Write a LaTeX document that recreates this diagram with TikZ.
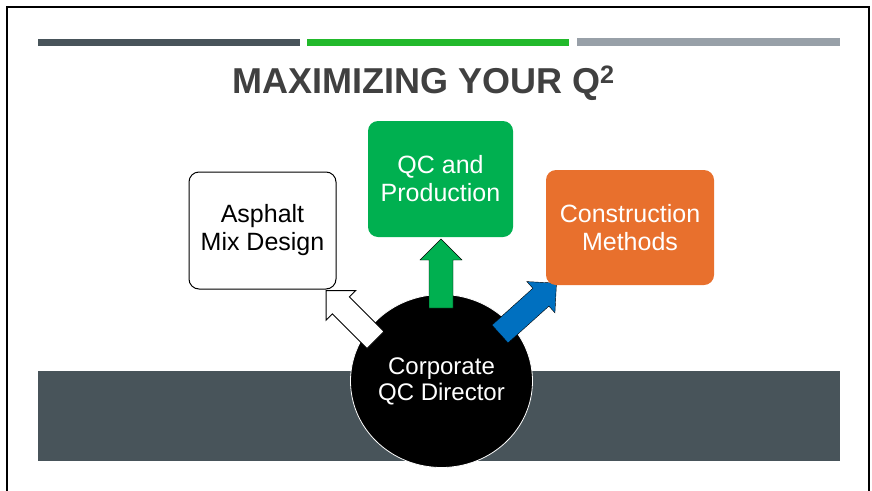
\documentclass[tikz,border=0pt]{standalone}
\usepackage{fontspec}
\setmainfont{Liberation Sans}
\usetikzlibrary{positioning,calc}
\definecolor{slate}{HTML}{48545A}
\definecolor{barGreen}{HTML}{22B92B}
\definecolor{barGrey}{HTML}{98A0A8}
\definecolor{titleGrey}{HTML}{404040}
\definecolor{qcGreen}{HTML}{00B050}
\definecolor{methOrange}{HTML}{E8702D}
\definecolor{arrowBlue}{HTML}{0070C0}
\tikzset{
	box/.style={rectangle, rounded corners=10pt, align=center, inner sep=2pt,
		font=\fontsize{25}{28}\selectfont},
	hub/.style={ellipse, fill=black, draw=white, line width=0.8pt, align=center,
		text=white, inner sep=0pt, font=\fontsize{24}{26}\selectfont}
}
% block arrow: style, tail point, angle, length
\newcommand{\blockarrow}[4][]{%
	\draw[#1, shift={#2}, rotate=#3] (0,-12) -- ({#4-21},-12) -- ({#4-21},-21)
		-- (#4,0) -- ({#4-21},21) -- ({#4-21},12) -- (0,12) -- cycle;}
\usetikzlibrary{shapes.geometric}

\begin{document}
\begin{tikzpicture}[x=1pt, y=-1pt]
	\useasboundingbox (0,0) rectangle (872,490);
	\draw[line width=2pt] (7,7) rectangle (869,520);

	% top bars
	\fill[slate] (38,39) rectangle (300,46);
	\fill[barGreen] (307,39) rectangle (569,46);
	\fill[barGrey] (577,38) rectangle (840,46);

	\node[anchor=base, text=titleGrey, font=\fontsize{36}{40}\selectfont\bfseries]
		(title) at (423.5,93) {MAXIMIZING YOUR Q\textsuperscript{2}};

	% band and director
	\fill[slate] (38,371) rectangle (840,461);
	\node[hub, minimum width=182pt, minimum height=173pt] (dir) at (441.5,381)
		{Corporate\\QC Director};

	% arrows
	\blockarrow[fill=white, draw=black, line width=1pt]{(375.5,340)}{135}{70}
	\blockarrow[fill=qcGreen]{(441,308)}{90}{69}
	\blockarrow[fill=arrowBlue]{(500,334)}{42}{76}

	% boxes
	\node[box, draw=black, line width=1pt, fill=white, minimum width=147pt,
		minimum height=117pt] (mix) at (262.5,230.5) {Asphalt\\Mix Design};
	\node[box, fill=qcGreen, text=white, minimum width=145pt,
		minimum height=116pt] (prod) at (440.5,179) {QC and\\Production};
	\node[box, fill=methOrange, text=white, minimum width=168pt,
		minimum height=115pt] (meth) at (630,227.5) {Construction\\Methods};
\end{tikzpicture}
\end{document}
